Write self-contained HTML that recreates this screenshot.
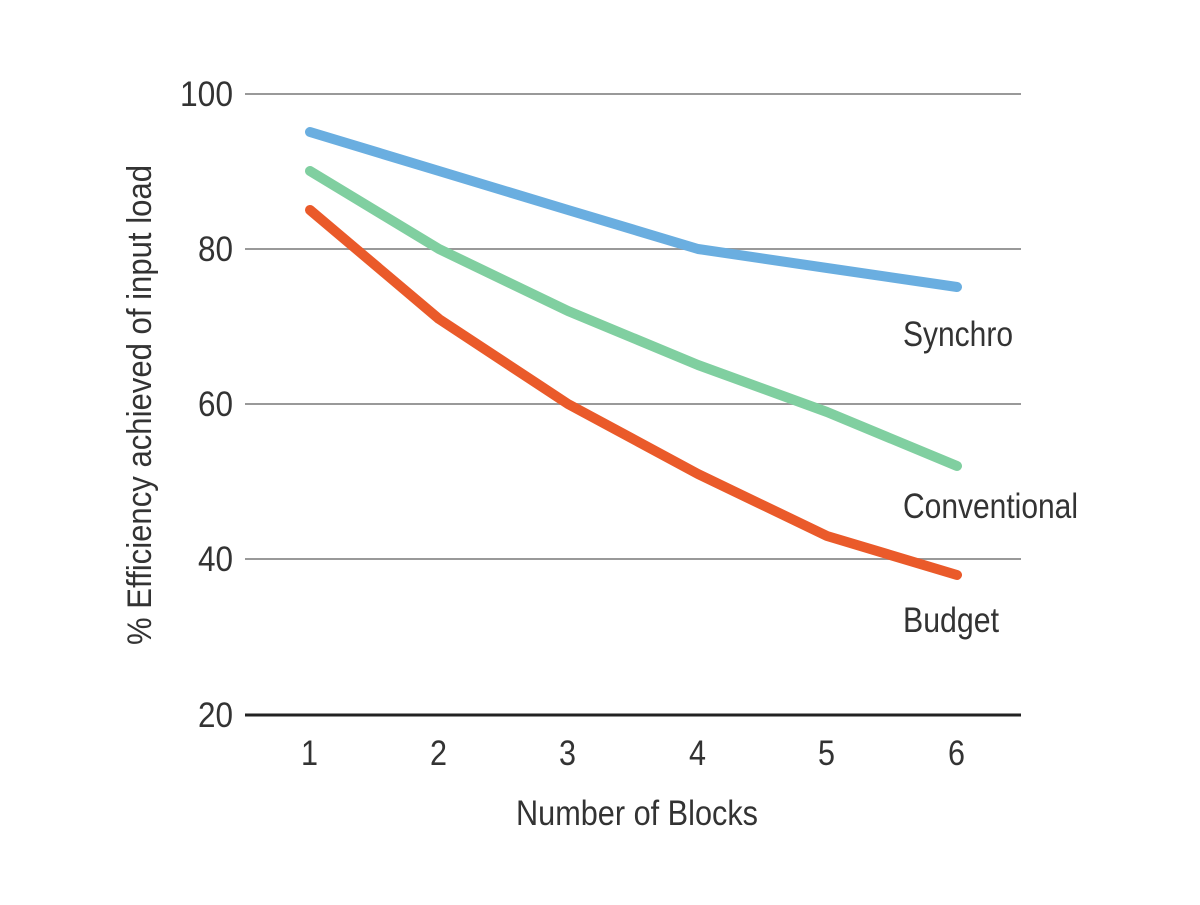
<!DOCTYPE html>
<html><head><style>
html,body{margin:0;padding:0;background:#fff;}
svg text{font-family:"Liberation Sans",sans-serif;fill:#333;}
</style></head><body>
<svg width="1200" height="900" viewBox="0 0 1200 900">
<g stroke="#999" stroke-width="2">
<line x1="245" y1="94" x2="1021" y2="94"/>
<line x1="245" y1="249" x2="1021" y2="249"/>
<line x1="245" y1="404" x2="1021" y2="404"/>
<line x1="245" y1="559" x2="1021" y2="559"/>
</g>
<line x1="245" y1="715" x2="1021" y2="715" stroke="#222" stroke-width="3"/>
<g font-size="35" lengthAdjust="spacingAndGlyphs">
<text x="180" y="106" textLength="53" lengthAdjust="spacingAndGlyphs">100</text>
<text x="198" y="261" textLength="35" lengthAdjust="spacingAndGlyphs">80</text>
<text x="198" y="416" textLength="35" lengthAdjust="spacingAndGlyphs">60</text>
<text x="198" y="571" textLength="35" lengthAdjust="spacingAndGlyphs">40</text>
<text x="198" y="727" textLength="35" lengthAdjust="spacingAndGlyphs">20</text>
</g>
<g font-size="35">
<text x="301" y="765" textLength="17" lengthAdjust="spacingAndGlyphs">1</text>
<text x="430" y="765" textLength="17" lengthAdjust="spacingAndGlyphs">2</text>
<text x="559" y="765" textLength="17" lengthAdjust="spacingAndGlyphs">3</text>
<text x="689" y="765" textLength="17" lengthAdjust="spacingAndGlyphs">4</text>
<text x="818" y="765" textLength="17" lengthAdjust="spacingAndGlyphs">5</text>
<text x="948" y="765" textLength="17" lengthAdjust="spacingAndGlyphs">6</text>
<text x="516" y="825" textLength="242" lengthAdjust="spacingAndGlyphs">Number of Blocks</text>
</g>
<text transform="translate(151,645) rotate(-90)" font-size="34" textLength="480" lengthAdjust="spacingAndGlyphs">% Efficiency achieved of input load</text>
<g fill="none" stroke-width="10" stroke-linecap="round" stroke-linejoin="round">
<polyline stroke="#6aaee0" points="310,132 439,171 568,210 698,249 827,268 957,287"/>
<polyline stroke="#80cfa0" points="310,171 439,249 568,311 698,365 827,412 957,466"/>
<polyline stroke="#ea5a2a" points="310,210 439,319 568,404 698,474 827,536 957,575"/>
</g>
<g font-size="35">
<text x="903" y="346" textLength="110" lengthAdjust="spacingAndGlyphs">Synchro</text>
<text x="903" y="518" textLength="175" lengthAdjust="spacingAndGlyphs">Conventional</text>
<text x="903" y="632" textLength="96" lengthAdjust="spacingAndGlyphs">Budget</text>
</g>
</svg>
</body></html>
